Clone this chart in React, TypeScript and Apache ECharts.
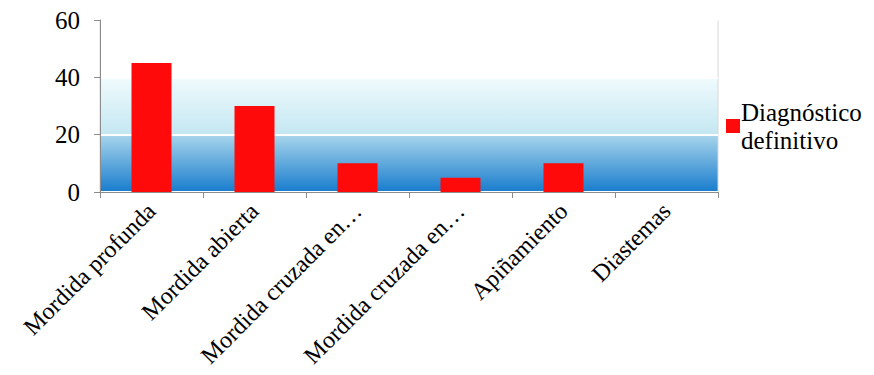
import React, { useEffect, useRef } from "react";
import * as echarts from "echarts";

const categories = [
  "Mordida profunda",
  "Mordida abierta",
  "Mordida cruzada en…",
  "Mordida cruzada en…",
  "Apiñamiento",
  "Diastemas",
];
const seriesName = "Diagnóstico\ndefinitivo";
const values = [45, 30, 10, 5, 10, 0];
const yTicks = { min: 0, max: 60, interval: 20 };

const FONT = "Liberation Serif";

export default function App() {
  const ref = useRef<HTMLDivElement>(null);
  useEffect(() => {
    if (!ref.current) return;
    const chart = echarts.init(ref.current, undefined, { renderer: "svg" });
    chart.setOption({
      animation: false,
      backgroundColor: "#ffffff",
      textStyle: { fontFamily: FONT },
      grid: {
        left: 100,
        right: 156,
        top: 20,
        bottom: 183,
        outerBoundsMode: "none",
        containLabel: false,
        show: true,
        borderColor: "#d8d8d8",
        borderWidth: 1,
        backgroundColor: new echarts.graphic.LinearGradient(0, 0, 0, 1, [
          { offset: 0, color: "#ffffff" },
          { offset: 0.33, color: "#ffffff" },
          { offset: 0.336, color: "#f0fbfd" },
          { offset: 0.664, color: "#c4e7f2" },
          { offset: 0.672, color: "#a6d4eb" },
          { offset: 1, color: "#187ccd" },
        ]),
      },
      legend: {
        orient: "vertical",
        left: 721,
        top: 93,
        itemWidth: 14,
        itemHeight: 14,
        icon: "rect",
        textStyle: {
          fontFamily: FONT,
          fontSize: 25,
          color: "#000",
          lineHeight: 28,
          padding: [0, 0, 0, -4],
        },
        data: [seriesName],
      },
      xAxis: {
        type: "category",
        data: categories,
        axisLine: { show: true, lineStyle: { color: "#8c8c8c", width: 1 } },
        axisTick: { show: true, length: 6, lineStyle: { color: "#8c8c8c" } },
        axisLabel: {
          interval: 0,
          rotate: 45,
          margin: 15,
          fontFamily: FONT,
          fontSize: 24,
          color: "#000",
        },
        splitLine: { show: false },
      },
      yAxis: {
        type: "value",
        min: yTicks.min,
        max: yTicks.max,
        interval: yTicks.interval,
        axisLine: { show: true, lineStyle: { color: "#8c8c8c", width: 1 } },
        axisTick: { show: true, length: 6, lineStyle: { color: "#8c8c8c" } },
        axisLabel: {
          margin: 20,
          fontFamily: FONT,
          fontSize: 25,
          color: "#000",
        },
        splitLine: { show: true, lineStyle: { color: "#ffffff", width: 2 } },
      },
      series: [
        {
          name: seriesName,
          type: "bar",
          data: values,
          barWidth: 40,
          itemStyle: { color: "#ff0a0a" },
        },
      ],
    });
    return () => chart.dispose();
  }, []);
  return <div ref={ref} style={{ width: 874, height: 375, position: "absolute", left: 0, top: 0 }} />;
}
